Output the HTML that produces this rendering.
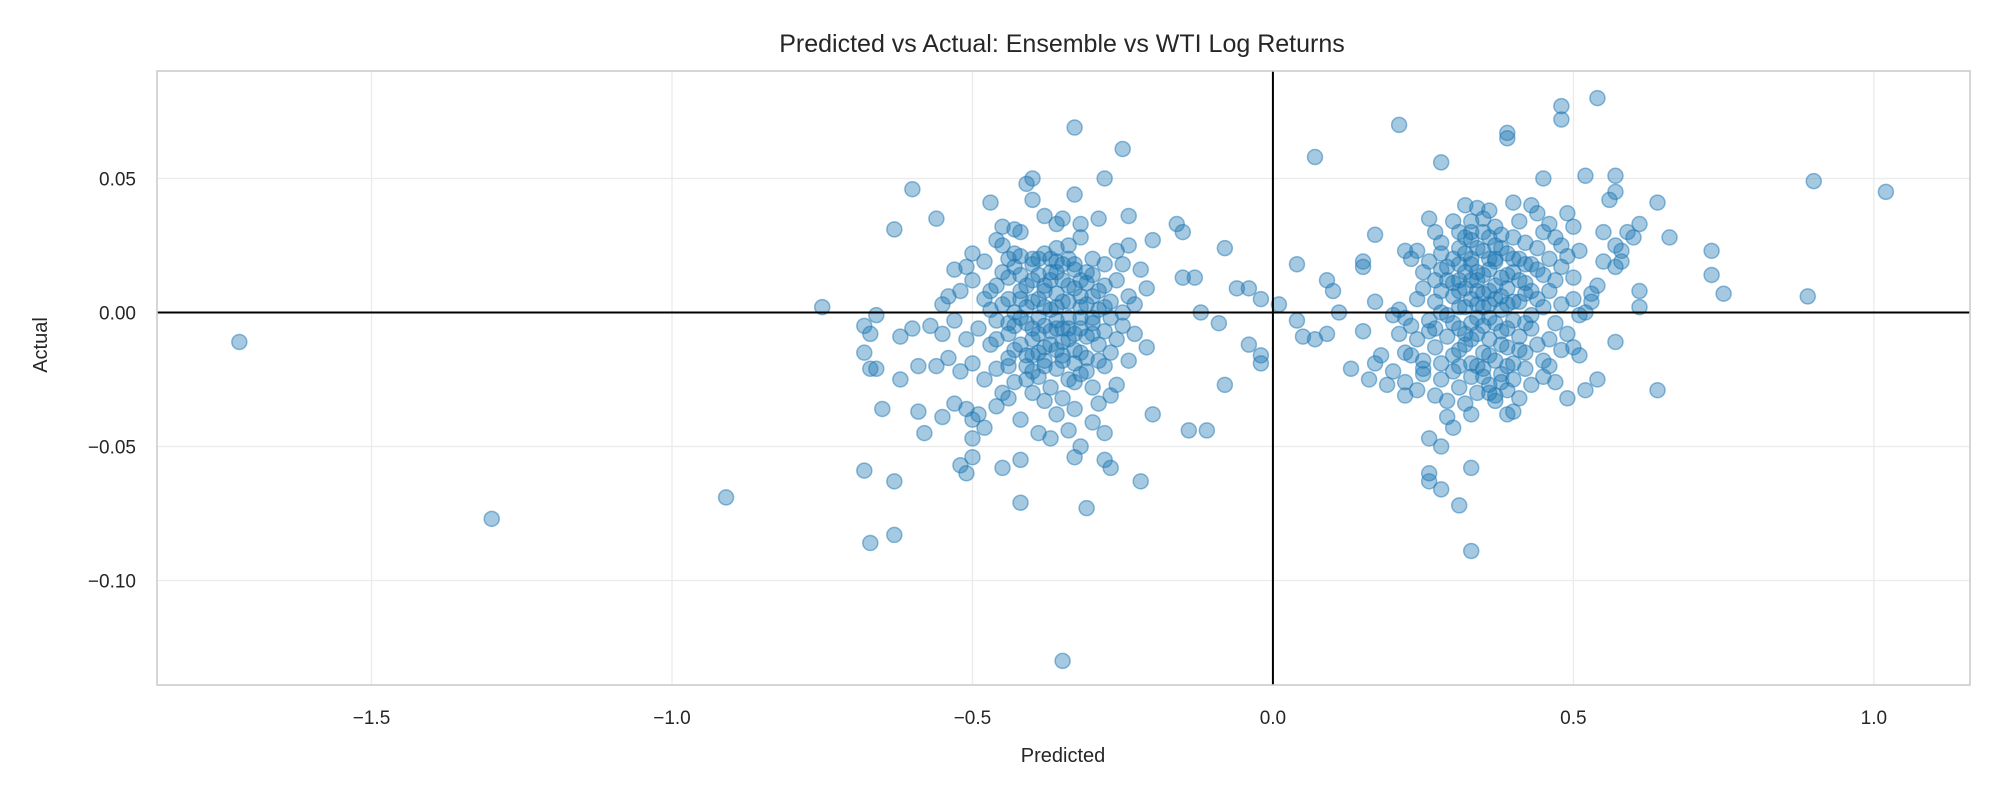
<!DOCTYPE html>
<html><head><meta charset="utf-8"><style>body{margin:0;background:#fff}svg{display:block}text{font-family:"Liberation Sans",sans-serif;fill:#262626}</style></head>
<body>
<svg id="chart" width="2000" height="800" viewBox="0 0 2000 800">
<rect width="2000" height="800" fill="#fff"/>
<g id="grid"></g><g id="pts"></g><g id="axes"></g>
<text x="1062" y="52" font-size="25" text-anchor="middle">Predicted vs Actual: Ensemble vs WTI Log Returns</text>
<text x="1063" y="762" font-size="20" text-anchor="middle">Predicted</text>
<text transform="translate(47,345) rotate(-90)" font-size="20" text-anchor="middle">Actual</text>
</svg>
<script>
const xTicks=[-1.5,-1.0,-0.5,0.0,0.5,1.0];
const xTickLabels=["−1.5","−1.0","−0.5","0.0","0.5","1.0"];
const yTicks=[0.05,0.0,-0.05,-0.10];
const yTickLabels=["0.05","0.00","−0.05","−0.10"];
const outliers=[[-1.72,-0.011],[-1.30,-0.077],[-0.91,-0.069],[-0.75,0.002],[-0.67,-0.086],[-0.63,-0.083],[-0.63,-0.063],[-0.68,-0.059],[-0.60,0.046],[-0.63,0.031],[-0.56,0.035],[-0.33,0.069],[-0.25,0.061],[-0.35,-0.130],[-0.31,-0.073],[-0.42,-0.071],[-0.22,-0.063],[-0.27,-0.058],[-0.28,-0.055],[-0.33,-0.054],[-0.45,-0.058],[-0.52,-0.057],[-0.51,-0.060],[-0.50,-0.054],[-0.42,-0.055],[-0.14,-0.044],[-0.11,-0.044],[-0.20,-0.038],[-0.08,-0.027],[-0.02,-0.016],[-0.02,-0.019],[-0.08,0.024],[-0.20,0.027],[-0.16,0.033],[-0.15,0.030],[-0.15,0.013],[-0.13,0.013],[-0.06,0.009],[-0.04,0.009],[-0.12,0.000],[-0.09,-0.004],[-0.04,-0.012],[-0.02,0.005],[0.01,0.003],[0.04,0.018],[0.04,-0.003],[0.05,-0.009],[0.07,-0.010],[0.09,-0.008],[0.09,0.012],[0.10,0.008],[0.11,0.000],[0.07,0.058],[0.21,0.070],[0.28,0.056],[0.48,0.077],[0.48,0.072],[0.54,0.080],[0.39,0.067],[0.39,0.065],[0.90,0.049],[1.02,0.045],[0.89,0.006],[0.75,0.007],[0.73,0.014],[0.73,0.023],[0.66,0.028],[0.64,0.041],[0.64,-0.029],[0.57,0.051],[0.57,0.045],[0.56,0.042],[0.52,0.051],[0.45,0.050],[0.57,-0.011],[0.54,-0.025],[0.52,-0.029],[0.49,-0.032],[0.47,-0.026],[0.33,-0.089],[0.31,-0.072],[0.33,-0.058],[0.28,-0.066],[0.26,-0.060],[0.26,-0.063],[0.28,-0.050],[0.26,-0.047],[0.30,-0.043],[0.29,-0.039],[0.33,-0.038],[0.39,-0.038],[0.40,-0.037],[0.37,-0.031],[0.22,-0.031],[0.19,-0.027],[0.16,-0.025],[0.13,-0.021],[0.17,-0.019],[0.18,-0.016],[0.15,-0.007],[0.17,0.004],[0.15,0.017],[0.17,0.029],[0.15,0.019],[0.22,0.023],[0.61,0.002],[0.61,0.008],[0.60,0.028],[0.61,0.033],[0.58,0.023],[0.58,0.019],[0.59,0.030],[0.57,0.025],[0.55,0.030],[0.54,0.010],[0.53,0.007],[0.52,0.000]];
const leftCluster=[[-0.41,0.048],[-0.40,0.050],[-0.40,0.042],[-0.33,0.044],[-0.47,0.041],[-0.45,0.032],[-0.43,0.031],[-0.38,0.036],[-0.36,0.033],[-0.32,0.033],[-0.29,0.035],[-0.24,0.036],[-0.28,0.050],[-0.35,0.035],[-0.42,0.030],[-0.45,0.025],
[-0.50,0.022],[-0.48,0.019],[-0.46,0.027],[-0.44,0.020],[-0.42,0.021],[-0.40,0.018],[-0.38,0.022],[-0.36,0.019],[-0.34,0.025],[-0.32,0.028],[-0.30,0.020],[-0.28,0.018],[-0.26,0.023],[-0.24,0.025],[-0.22,0.016],[-0.25,0.018],[-0.33,0.016],[-0.37,0.015],[-0.43,0.017],[-0.51,0.017],[-0.53,0.016],
[-0.54,0.006],[-0.52,0.008],[-0.50,0.012],[-0.48,0.005],[-0.46,0.010],[-0.45,0.003],[-0.44,0.013],[-0.42,0.008],[-0.41,0.002],[-0.40,0.012],[-0.39,0.005],[-0.38,0.010],[-0.37,0.001],[-0.36,0.007],[-0.35,0.012],[-0.34,0.004],[-0.33,0.009],[-0.32,0.002],[-0.31,0.011],[-0.30,0.006],[-0.29,0.001],[-0.28,0.010],[-0.27,0.004],[-0.26,0.012],[-0.24,0.006],[-0.23,0.003],[-0.21,0.009],[-0.25,0.000],[-0.43,0.000],[-0.47,0.001],[-0.55,0.003],
[-0.57,-0.005],[-0.55,-0.008],[-0.53,-0.003],[-0.51,-0.010],[-0.49,-0.006],[-0.47,-0.012],[-0.46,-0.003],[-0.44,-0.008],[-0.43,-0.014],[-0.41,-0.004],[-0.40,-0.010],[-0.39,-0.002],[-0.38,-0.013],[-0.37,-0.007],[-0.36,-0.003],[-0.35,-0.011],[-0.34,-0.006],[-0.33,-0.014],[-0.32,-0.002],[-0.31,-0.009],[-0.30,-0.004],[-0.29,-0.012],[-0.28,-0.007],[-0.27,-0.002],[-0.26,-0.010],[-0.25,-0.005],[-0.23,-0.008],[-0.21,-0.013],[-0.60,-0.006],[-0.62,-0.009],[-0.66,-0.001],[-0.68,-0.005],[-0.67,-0.008],
[-0.56,-0.020],[-0.54,-0.017],[-0.52,-0.022],[-0.50,-0.019],[-0.48,-0.025],[-0.46,-0.021],[-0.44,-0.017],[-0.43,-0.026],[-0.41,-0.020],[-0.40,-0.016],[-0.39,-0.024],[-0.38,-0.018],[-0.37,-0.028],[-0.36,-0.021],[-0.35,-0.016],[-0.34,-0.025],[-0.33,-0.019],[-0.32,-0.023],[-0.31,-0.017],[-0.30,-0.028],[-0.28,-0.020],[-0.27,-0.015],[-0.26,-0.027],[-0.24,-0.018],[-0.59,-0.020],[-0.62,-0.025],[-0.66,-0.021],[-0.68,-0.015],[-0.67,-0.021],
[-0.65,-0.036],[-0.59,-0.037],[-0.58,-0.045],[-0.55,-0.039],[-0.53,-0.034],[-0.51,-0.036],[-0.50,-0.040],[-0.49,-0.038],[-0.48,-0.043],[-0.46,-0.035],[-0.44,-0.032],[-0.42,-0.040],[-0.40,-0.030],[-0.39,-0.045],[-0.38,-0.033],[-0.37,-0.047],[-0.36,-0.038],[-0.35,-0.032],[-0.34,-0.044],[-0.33,-0.036],[-0.32,-0.050],[-0.30,-0.041],[-0.29,-0.034],[-0.27,-0.031],[-0.28,-0.045],[-0.50,-0.047],[-0.45,-0.030],[-0.41,-0.025],
[-0.42,0.005],[-0.38,-0.005],[-0.36,0.002],[-0.34,-0.010],[-0.40,-0.006],[-0.32,0.006],[-0.44,-0.004],[-0.30,-0.008],[-0.35,0.018],[-0.39,-0.015],[-0.31,0.015],[-0.37,0.020]];
const leftCore=[[-0.45,0.015],[-0.44,0.005],[-0.43,-0.005],[-0.42,0.014],[-0.42,-0.012],[-0.41,0.010],[-0.41,-0.016],[-0.40,0.004],[-0.40,0.020],[-0.39,-0.008],[-0.39,0.014],[-0.38,0.002],[-0.38,-0.020],[-0.37,0.012],[-0.37,-0.012],[-0.36,-0.006],[-0.36,0.015],[-0.35,0.004],[-0.35,-0.018],[-0.34,0.010],[-0.34,-0.002],[-0.33,0.018],[-0.33,-0.008],[-0.32,0.012],[-0.32,-0.015],[-0.31,0.003],[-0.31,-0.022],[-0.30,0.014],[-0.30,-0.002],[-0.29,0.008],[-0.43,0.022],[-0.40,-0.022],[-0.36,0.024],[-0.33,-0.026],[-0.46,-0.010],[-0.47,0.008],[-0.29,-0.018],[-0.28,0.002],[-0.38,0.008],[-0.35,-0.006],[-0.39,0.020],[-0.34,0.020],[-0.42,-0.002],[-0.36,-0.014],[-0.32,-0.006],[-0.44,-0.020]];
const rightCluster=[[0.32,0.040],[0.34,0.039],[0.35,0.035],[0.36,0.038],[0.38,0.029],[0.40,0.041],[0.41,0.034],[0.43,0.040],[0.44,0.037],[0.46,0.033],[0.47,0.028],[0.49,0.037],[0.50,0.032],[0.30,0.034],[0.27,0.030],[0.26,0.035],[0.28,0.026],[0.31,0.030],[0.33,0.027],[0.37,0.025],[0.42,0.026],[0.45,0.030],[0.48,0.025],
[0.23,0.020],[0.24,0.023],[0.25,0.015],[0.26,0.019],[0.27,0.012],[0.28,0.022],[0.29,0.017],[0.30,0.011],[0.31,0.024],[0.32,0.015],[0.33,0.020],[0.34,0.012],[0.35,0.023],[0.36,0.016],[0.37,0.019],[0.38,0.013],[0.39,0.022],[0.40,0.015],[0.41,0.020],[0.42,0.011],[0.43,0.018],[0.44,0.024],[0.45,0.014],[0.46,0.020],[0.47,0.012],[0.48,0.017],[0.49,0.021],[0.50,0.013],[0.51,0.023],[0.55,0.019],[0.57,0.017],
[0.21,0.001],[0.22,-0.002],[0.24,0.005],[0.25,0.009],[0.26,-0.003],[0.27,0.004],[0.28,0.008],[0.29,-0.001],[0.30,0.006],[0.31,0.002],[0.32,0.009],[0.33,-0.004],[0.34,0.003],[0.35,0.007],[0.36,-0.002],[0.37,0.005],[0.38,0.001],[0.39,0.009],[0.40,-0.003],[0.41,0.004],[0.42,0.007],[0.43,-0.001],[0.44,0.005],[0.45,0.002],[0.46,0.008],[0.47,-0.004],[0.48,0.003],[0.50,0.005],[0.51,-0.001],[0.53,0.004],[0.20,-0.001],[0.23,-0.005],
[0.21,-0.008],[0.22,-0.015],[0.24,-0.010],[0.25,-0.018],[0.26,-0.007],[0.27,-0.013],[0.28,-0.019],[0.29,-0.009],[0.30,-0.016],[0.31,-0.006],[0.32,-0.012],[0.33,-0.019],[0.34,-0.008],[0.35,-0.015],[0.36,-0.010],[0.37,-0.018],[0.38,-0.007],[0.39,-0.013],[0.40,-0.019],[0.41,-0.009],[0.42,-0.015],[0.43,-0.006],[0.44,-0.012],[0.45,-0.018],[0.46,-0.010],[0.48,-0.014],[0.49,-0.008],[0.50,-0.013],[0.51,-0.016],[0.20,-0.022],[0.23,-0.016],
[0.22,-0.026],[0.24,-0.029],[0.25,-0.023],[0.27,-0.031],[0.28,-0.025],[0.29,-0.033],[0.30,-0.022],[0.31,-0.028],[0.32,-0.034],[0.33,-0.024],[0.34,-0.030],[0.35,-0.021],[0.36,-0.027],[0.37,-0.033],[0.38,-0.023],[0.39,-0.029],[0.40,-0.025],[0.41,-0.032],[0.42,-0.021],[0.43,-0.027],[0.45,-0.024],[0.46,-0.020],[0.25,-0.021],
[0.33,0.005],[0.35,-0.005],[0.37,0.010],[0.34,0.015],[0.36,0.003],[0.32,-0.008],[0.38,-0.012],[0.34,-0.020],[0.31,0.018],[0.39,0.003],[0.33,0.030],[0.36,0.028]];
const rightCore=[[0.29,0.012],[0.30,-0.004],[0.30,0.020],[0.31,0.008],[0.31,-0.014],[0.32,0.022],[0.32,0.002],[0.33,0.012],[0.33,-0.010],[0.34,0.024],[0.34,-0.002],[0.35,0.014],[0.35,-0.024],[0.36,0.008],[0.36,-0.016],[0.37,0.020],[0.37,-0.004],[0.38,0.006],[0.38,0.024],[0.39,-0.020],[0.39,0.014],[0.40,0.004],[0.40,0.028],[0.41,-0.014],[0.41,0.012],[0.42,0.018],[0.42,-0.004],[0.43,0.008],[0.33,0.034],[0.35,0.030],[0.37,0.032],[0.31,-0.020],[0.34,0.008],[0.36,0.020],[0.32,0.028],[0.28,0.016],[0.28,0.000],[0.27,-0.006],[0.38,-0.026],[0.36,-0.030],[0.40,0.020],[0.35,0.002],[0.33,0.018],[0.39,-0.006],[0.31,0.012],[0.44,0.016]];
const svgNS="http://www.w3.org/2000/svg";
const L=157,R=1970,T=71,B=685;
const xMin=-1.857,xMax=1.160,yMin=-0.139,yMax=0.0901;
const sx=v=>L+(v-xMin)/(xMax-xMin)*(R-L);
const sy=v=>B-(v-yMin)/(yMax-yMin)*(B-T);
function mk(tag,attrs,parent){const e=document.createElementNS(svgNS,tag);for(const k in attrs)e.setAttribute(k,attrs[k]);parent.appendChild(e);return e;}
const grid=document.getElementById('grid'),axes=document.getElementById('axes'),pts=document.getElementById('pts');
xTicks.forEach((v,i)=>{
  const g=mk('line',{x1:sx(v),x2:sx(v),y1:T,y2:B,stroke:'#ebebeb','stroke-width':1.3},grid);
  
  
  const t=mk('text',{x:sx(v),y:724,'font-size':19,'text-anchor':'middle'},axes);
  t.textContent=xTickLabels[i];
  
  
});
yTicks.forEach((v,i)=>{
  const g=mk('line',{x1:L,x2:R,y1:sy(v),y2:sy(v),stroke:'#ebebeb','stroke-width':1.3},grid);
  
  
  const t=mk('text',{x:136,y:sy(v)+7,'font-size':19,'text-anchor':'end'},axes);
  t.textContent=yTickLabels[i];
  
  
});
[outliers,leftCluster,leftCore,rightCluster,rightCore].forEach(arr=>arr.forEach(p=>{
  const c=mk('circle',{cx:sx(p[0]),cy:sy(p[1]),r:7.5,fill:'rgba(31,119,180,0.4)',stroke:'rgba(31,119,180,0.5)','stroke-width':1.5},pts);
  
  
}));
const h=mk('line',{x1:L,x2:R,y1:sy(0),y2:sy(0),stroke:'#000','stroke-width':2},axes);


const v=mk('line',{x1:sx(0),x2:sx(0),y1:T,y2:B,stroke:'#000','stroke-width':2},axes);


const fr=mk('rect',{x:L,y:T,width:R-L,height:B-T,fill:'none',stroke:'#cccccc','stroke-width':1.6},axes);


</script>
</body></html>
